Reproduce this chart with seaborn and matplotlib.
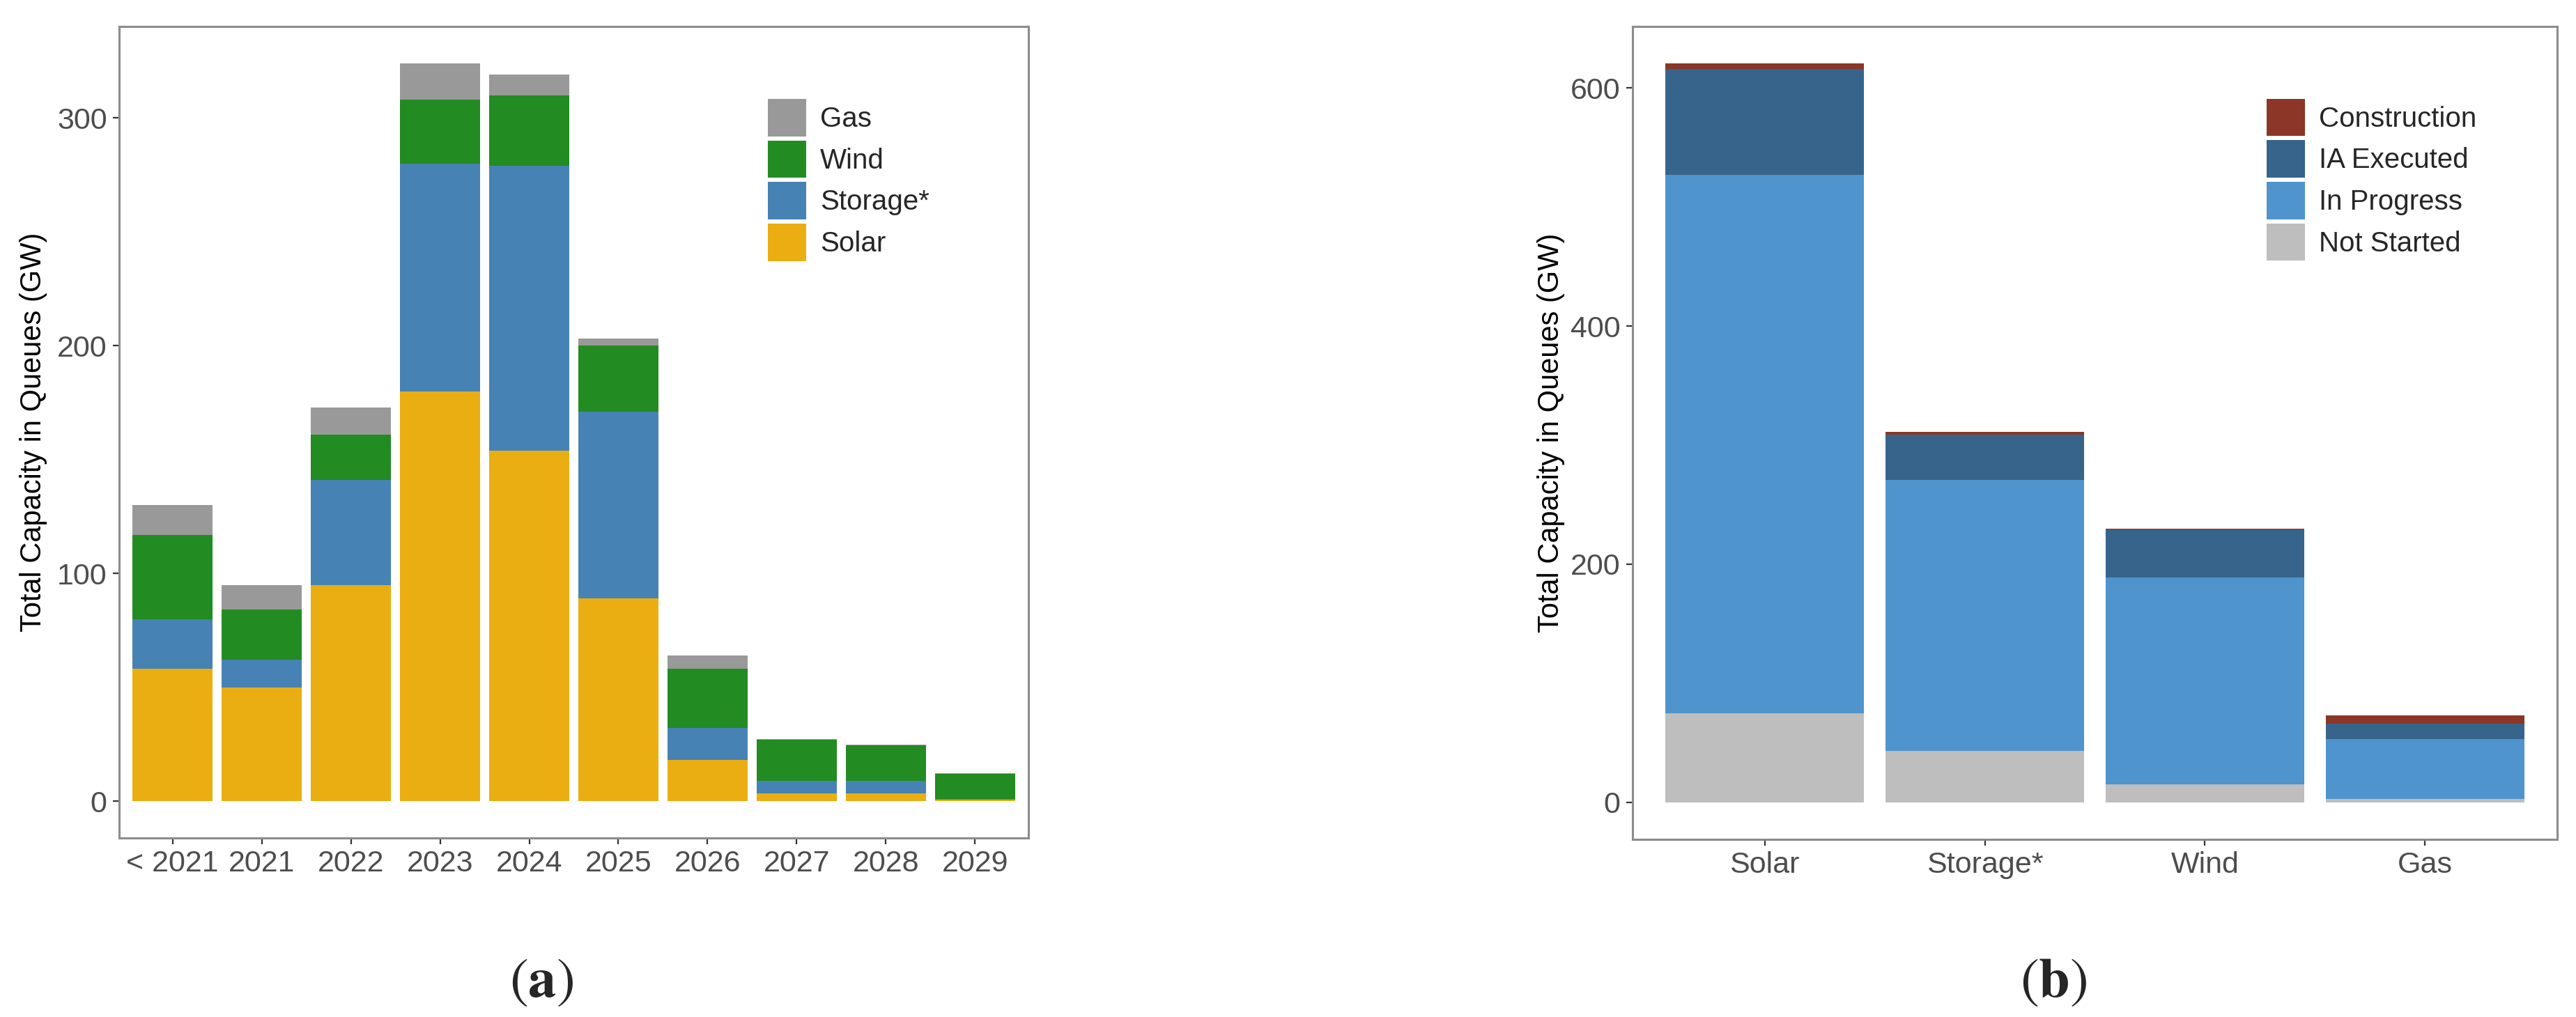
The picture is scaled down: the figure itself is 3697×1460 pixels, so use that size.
import numpy as np
import pandas as pd
import matplotlib.pyplot as plt
import seaborn as sns
from matplotlib.patches import Patch

# ==========================================
# DATA
# ==========================================

years = ["< 2021", "2021", "2022", "2023", "2024", "2025", "2026", "2027", "2028", "2029"]
solar = [58, 50, 95, 180, 154, 89, 18, 3.5, 3.5, 0.6]
storage = [22, 12, 46, 100, 125, 82, 14, 5.5, 5.5, 0.2]
wind = [37, 22, 20, 28, 31, 29, 26, 18, 15.5, 11]
gas = [13, 11, 12, 16, 9, 3, 6, 0.3, 0.3, 0.3]

techs = ["Solar", "Storage*", "Wind", "Gas"]
not_started = [75, 43, 15, 3]
in_progress = [452, 228, 174, 50]
ia_executed = [89, 38, 40, 13]
construction = [4.5, 2, 1, 7]

left_series = ["Solar", "Storage*", "Wind", "Gas"]
left_colors = ["#EAAE12", "#4682B4", "#228B22", "#999999"]
right_series = ["Not Started", "In Progress", "IA Executed", "Construction"]
right_colors = ["#BEBEBE", "#4F94CD", "#36648B", "#8B3626"]

# ==========================================
# STYLE
# ==========================================

sns.set_style("white")
plt.rcParams["font.family"] = ["Liberation Sans", "DejaVu Sans"]
plt.rcParams["mathtext.fontset"] = "stix"

fig = plt.figure(figsize=(36.98, 14.6), dpi=100)
ax1 = fig.add_axes([0.04624, 0.17603, 0.35289, 0.79795])
ax2 = fig.add_axes([0.63359, 0.17466, 0.35884, 0.79932])


def stacked(ax, cats, layers, colors):
    # draw cumulative totals back to front so lower layers sit on top
    cum = np.cumsum(np.array(layers, dtype=float), axis=0)
    for i in range(len(layers) - 1, -1, -1):
        sns.barplot(x=cats, y=cum[i], color=colors[i], saturation=1,
                    width=0.9, linewidth=0, ax=ax)
    top = cum[-1].max()
    ax.set_ylim(-0.05 * top, top * 1.05)
    ax.set_xlim(-0.6, len(cats) - 0.4)


stacked(ax1, years, [solar, storage, wind, gas], left_colors)
stacked(ax2, techs, [not_started, in_progress, ia_executed, construction], right_colors)

ax1.set_yticks([0, 100, 200, 300])
ax2.set_yticks([0, 200, 400, 600])

for ax, pad in [(ax1, 10), (ax2, 6)]:
    for sp in ax.spines.values():
        sp.set_visible(True)
        sp.set_color("#8C8C8C")
        sp.set_linewidth(2.2)
    ax.tick_params(axis="both", direction="out", length=6.5, width=1.6,
                   color="#333333", labelcolor="#4D4D4D", labelsize=31, pad=6)
    ax.tick_params(axis="both", which="both", bottom=True, left=True)
    ax.set_xlabel("")
    ax.set_ylabel("Total Capacity in Queues (GW)", fontsize=30, color="black",
                  labelpad=pad)
    ax.grid(False)

# legends (top entry drawn first, like the reference)
h1 = [Patch(facecolor=c, edgecolor="none", label=s)
      for s, c in zip(left_series[::-1], left_colors[::-1])]
ax1.legend(handles=h1, loc="upper left", bbox_to_anchor=(0.7134, 0.9107),
           frameon=False, fontsize=29, handlelength=1.37, handleheight=1.67,
           labelspacing=0.15, handletextpad=0.5, borderpad=0, borderaxespad=0)

h2 = [Patch(facecolor=c, edgecolor="none", label=s)
      for s, c in zip(right_series[::-1], right_colors[::-1])]
ax2.legend(handles=h2, loc="upper left", bbox_to_anchor=(0.6858, 0.911),
           frameon=False, fontsize=29, handlelength=1.37, handleheight=1.67,
           labelspacing=0.15, handletextpad=0.5, borderpad=0, borderaxespad=0)

# panel captions
fig.text(777 / 3698, 0.033, r"($\mathbf{a}$)", fontsize=58, ha="center",
         va="center", family="STIXGeneral")
fig.text(2947 / 3698, 0.033, r"($\mathbf{b}$)", fontsize=58, ha="center",
         va="center", family="STIXGeneral")

fig.savefig("out.png", dpi=100, facecolor="white")
